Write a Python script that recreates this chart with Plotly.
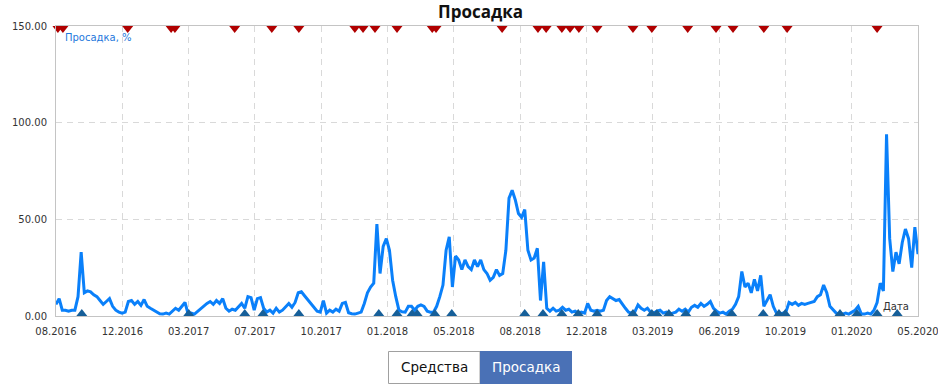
import plotly.graph_objects as go
import pandas as pd

# ---------------- data ----------------
START = "2016-08-01"
STEP_DAYS = 5

drawdown = [
    6, 9, 3, 3, 2.5, 3, 3, 10, 33, 12,
    13, 12.5, 11, 10, 8, 6, 7.5, 9, 5, 3,
    2, 1.5, 2, 7.5, 8, 6, 7.5, 5.5, 8.5, 5,
    4, 3, 1.8, 1.2, 1, 1.5, 1, 2.5, 4, 3,
    5, 7, 1, 1.5, 1, 2.5, 4, 5.5, 6.5, 7.5,
    6, 8, 6.5, 9, 4, 2.5, 3.5, 3, 5, 6.5,
    4, 10, 9.5, 3, 9, 9.5, 4, 2, 3, 1.5,
    4, 2, 3, 5, 6.5, 4.5, 7, 12, 12.5, 10.5,
    8.5, 6.5, 4, 2.5, 2, 8, 1.5, 3, 2, 3.5,
    2.5, 6.5, 7, 1.7, 1.2, 1, 1.5, 2, 6.5, 12,
    15, 17, 47.5, 22, 36, 40, 34, 18.5, 10, 3,
    2.2, 2, 5, 5, 3, 5, 5.7, 5, 2.5, 2,
    2, 5, 10, 16, 34, 41, 15, 31, 29, 24,
    29, 25.5, 24, 29, 25.5, 29, 24, 22, 18.5, 20,
    24, 21, 22, 34, 61, 65, 60, 53, 51, 55,
    34, 29, 30, 35, 8, 28, 4, 2.5, 4, 2.5,
    3, 4.5, 3, 3.5, 2, 2.5, 1.5, 2, 1.5, 6.5,
    3, 2.5, 3, 2.5, 3, 8, 10, 9, 8, 8.5,
    6, 4, 2, 1.5, 2.2, 5.7, 4, 3, 4, 2,
    1.5, 2.5, 3, 1.5, 2, 1, 1.5, 2, 3.5, 2.5,
    3.5, 2, 4.5, 5.5, 4.5, 6.5, 5, 6, 7.5, 4,
    2.5, 1.5, 2, 1, 2.5, 3.5, 6, 10, 23, 15,
    17, 12, 19, 13, 21, 5, 8, 11, 5, 1.5,
    1, 1.5, 2, 7, 6, 7, 5.5, 6.5, 6, 6.5,
    7, 7.5, 10, 11, 16, 12, 5, 3, 1.5, 1,
    1, 1.5, 1, 2, 3, 5, 1, 1, 1.5, 1,
    3, 7, 17, 13, 94, 40, 23, 33, 27, 38,
    45, 40, 25, 46, 32,
]

tick_labels = ["08.2016", "12.2016", "03.2017", "07.2017", "10.2017", "01.2018",
               "05.2018", "08.2018", "12.2018", "03.2019", "06.2019", "10.2019",
               "01.2020", "05.2020"]

y_ticks = [0, 50, 100, 150]

peak_dates = [
    "2016-08-04", "2016-08-12", "2016-11-23", "2017-01-31", "2017-02-06",
    "2017-05-12", "2017-07-10", "2017-08-22", "2017-11-19", "2017-12-02",
    "2017-12-21", "2018-01-25", "2018-03-22", "2018-03-28", "2018-07-11",
    "2018-09-06", "2018-09-19", "2018-10-14", "2018-10-27", "2018-11-10",
    "2018-12-09", "2019-02-04", "2019-03-06", "2019-05-02", "2019-06-16",
    "2019-07-13", "2019-08-31", "2019-10-07", "2020-02-27",
]

trough_dates = [
    "2016-09-11", "2017-02-28", "2017-05-28", "2017-06-26", "2017-08-22",
    "2017-12-27", "2018-01-25", "2018-02-18", "2018-02-26", "2018-03-26",
    "2018-04-22", "2018-08-16", "2018-09-14", "2018-10-14", "2018-11-09",
    "2018-12-09", "2019-02-04", "2019-03-06", "2019-03-14", "2019-04-02",
    "2019-04-29", "2019-06-14", "2019-07-11", "2019-08-30", "2019-09-24",
    "2019-10-04", "2019-12-30", "2020-01-26", "2020-02-27", "2020-03-30",
]

# ---------------- figure ----------------
dates = pd.date_range(START, periods=len(drawdown), freq=f"{STEP_DAYS}D")
x_start, x_end = dates[0], dates[-1]
n = len(tick_labels)
tick_positions = [x_start + (x_end - x_start) * k / (n - 1) for k in range(n)]

FONT = "DejaVu Sans"
LINE_BLUE = "#0a80fa"

fig = go.Figure()
fig.add_trace(go.Scatter(
    x=dates, y=drawdown, mode="lines",
    line=dict(color=LINE_BLUE, width=3),
    hoverinfo="skip", showlegend=False,
))
fig.add_trace(go.Scatter(
    x=pd.to_datetime(trough_dates), y=[1.2] * len(trough_dates), mode="markers",
    marker=dict(symbol="triangle-up", size=9.5, color="#165f99"),
    cliponaxis=False, showlegend=False, hoverinfo="skip",
))
fig.add_trace(go.Scatter(
    x=pd.to_datetime(peak_dates), y=[148.8] * len(peak_dates), mode="markers",
    marker=dict(symbol="triangle-down", size=9.5, color="#b00000"),
    cliponaxis=False, showlegend=False, hoverinfo="skip",
))

W, H = 938, 392
L, R, T, B = 56, 20, 26, 76
pw, ph = W - L - R, H - T - B


def px(xp):
    return (xp - L) / pw


def py(yp):
    return (H - B - yp) / ph


axis_common = dict(
    showgrid=True, gridcolor="#d9d9d9", griddash="6px,5px", gridwidth=1,
    showline=True, linecolor="#c4c4c4", linewidth=1, mirror=True,
    zeroline=False, ticks="", ticklabelstandoff=6, ticklabeloverflow="allow",
    automargin=False,
    tickfont=dict(family=FONT, size=10, color="#333333"),
)

fig.update_layout(
    width=W, height=H,
    margin=dict(l=L, r=R, t=T, b=B, pad=0, autoexpand=False),
    paper_bgcolor="white", plot_bgcolor="white",
    font=dict(family=FONT, size=10, color="#333333"),
    showlegend=False,
    xaxis=dict(range=[x_start, x_end], tickvals=tick_positions,
               ticktext=tick_labels, **axis_common),
    yaxis=dict(range=[0, 150], tickvals=y_ticks, tickformat=".2f",
               **axis_common),
)

annotations = [
    dict(text="<b>Просадка</b>", x=px(480), y=py(11), xref="paper", yref="paper",
         xanchor="center", yanchor="middle", showarrow=False,
         font=dict(family="Open Sans", size=17, color="#111111")),
    dict(text="Просадка, %", x=px(63), y=py(38), xref="paper", yref="paper",
         xanchor="left", yanchor="middle", showarrow=False,
         font=dict(family=FONT, size=10, color="#1e78dc")),
    dict(text="Дата", x=px(911), y=py(306), xref="paper", yref="paper",
         xanchor="right", yanchor="middle", showarrow=False,
         font=dict(family=FONT, size=10, color="#333333")),
    dict(text="Средства", x=px(434), y=py(367), xref="paper", yref="paper",
         xanchor="center", yanchor="middle", showarrow=False,
         font=dict(family=FONT, size=13.5, color="#111111")),
    dict(text="Просадка", x=px(526), y=py(367), xref="paper", yref="paper",
         xanchor="center", yanchor="middle", showarrow=False,
         font=dict(family=FONT, size=13.5, color="#ffffff")),
]
shapes = [
    dict(type="rect", xref="paper", yref="paper",
         x0=px(388.5), x1=px(480), y0=py(383.5), y1=py(351.5),
         line=dict(color="#a0a0a0", width=1), fillcolor="white", layer="above"),
    dict(type="rect", xref="paper", yref="paper",
         x0=px(480), x1=px(572), y0=py(384), y1=py(351),
         line=dict(width=0), fillcolor="#4a71b6", layer="above"),
]
fig.update_layout(annotations=annotations, shapes=shapes)

fig.write_html("out.html")
